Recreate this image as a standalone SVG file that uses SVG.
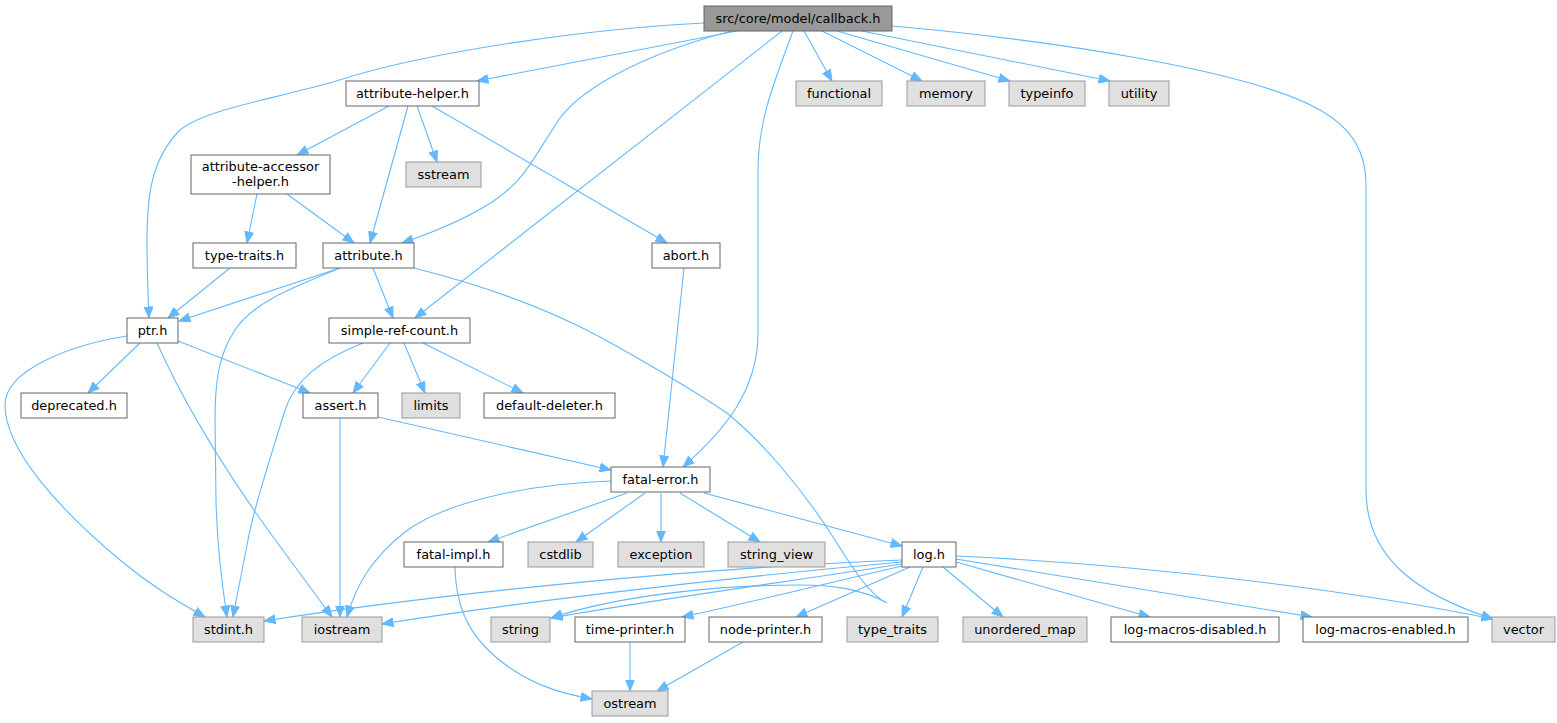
<svg xmlns="http://www.w3.org/2000/svg" width="1557" height="723" viewBox="0 0 1557 723">
<style>
.n rect{fill:#ffffff;stroke:#666666;stroke-width:1}
.g rect{fill:#e0e0e0;stroke:#999999;stroke-width:1}
.r rect{fill:#999999;stroke:#666666;stroke-width:1}
text{font-family:"DejaVu Sans","Liberation Sans",sans-serif;font-size:12.9px;text-anchor:middle;fill:#000000}
.e path{fill:none;stroke:#63b8ff;stroke-width:1.1;marker-end:url(#arr)}
</style>
<defs>
<marker id="arr" markerUnits="userSpaceOnUse" markerWidth="14" markerHeight="11" refX="11.5" refY="4.8" orient="auto">
<path d="M0.5,0.5 L11.5,4.8 L0.5,9.1 z" fill="#63b8ff" stroke="#63b8ff" stroke-width="1"/>
</marker>
</defs>
<rect width="1557" height="723" fill="#ffffff"/>
<g id="connectors" class="e">
<path d="M704,23 C600,28 430,50 333,82 C260,102 205,110 180,130 C150,160 147,200 147,240 C147,270 148,295 149,318"/>
<path d="M737,31 L477,81"/>
<path d="M732,31 C650,52 585,85 560,118 C535,155 525,180 495,200 C470,217 440,230 402,243"/>
<path d="M782,31 L415,318"/>
<path d="M793,31 C775,80 758,120 758,170 L758,333 C758,390 725,430 683,467"/>
<path d="M804,31 L832,81"/>
<path d="M822,31 L922,81"/>
<path d="M837,31 L1010,81"/>
<path d="M862,31 L1110,81"/>
<path d="M892,26 C1050,40 1250,70 1320,110 C1355,130 1366,155 1366,185 L1366,490 C1366,560 1420,595 1493,619"/>
<path d="M389,106 L297,155"/>
<path d="M408,106 L370,243"/>
<path d="M417,106 L437,162"/>
<path d="M432,106 L667,243"/>
<path d="M257,194 L247,243"/>
<path d="M287,194 L354,243"/>
<path d="M230,268 L168,318"/>
<path d="M340,268 L179,321"/>
<path d="M340,268 C300,285 255,300 235,330 C218,355 215,385 215,420 L216,500 C217,545 222,585 227,617"/>
<path d="M373,268 L393,318"/>
<path d="M414,268 C470,282 540,305 600,337 C660,370 700,395 727,413 C760,440 800,485 835,540 C855,572 870,595 887,603 C860,588 830,585 800,585 C720,585 620,595 551,618"/>
<path d="M363,343 C320,360 295,380 285,410 C268,465 252,515 247,545 L233,617"/>
<path d="M390,343 L353,393"/>
<path d="M404,343 L425,393"/>
<path d="M423,343 L523,393"/>
<path d="M140,343 L88,393"/>
<path d="M178,341 L310,393"/>
<path d="M127,336 C70,345 5,370 5,405 C5,450 60,510 120,560 C150,585 175,600 205,617"/>
<path d="M157,343 C185,405 225,470 268,530 L332,617"/>
<path d="M340,418 L340,617"/>
<path d="M378,417 L611,470"/>
<path d="M684,268 L663,467"/>
<path d="M611,481 C520,484 440,505 405,532 C372,558 356,585 347,617"/>
<path d="M627,493 L488,542"/>
<path d="M645,493 L576,542"/>
<path d="M661,493 L661,542"/>
<path d="M680,493 L760,542"/>
<path d="M704,493 L902,546"/>
<path d="M455,567 C456,610 470,640 510,668 C540,688 565,694 592,699"/>
<path d="M902,560 C700,568 450,592 264,621"/>
<path d="M902,562 C700,580 500,605 382,624"/>
<path d="M902,564 C800,580 650,600 551,618"/>
<path d="M902,566 C820,585 740,605 682,617"/>
<path d="M910,567 L796,617"/>
<path d="M923,567 L902,617"/>
<path d="M943,567 L1003,617"/>
<path d="M956,562 L1150,617"/>
<path d="M956,559 L1312,617"/>
<path d="M956,556 C1150,565 1350,590 1493,619"/>
<path d="M630,642 L630,691"/>
<path d="M743,642 L657,691"/>
</g>
<g id="callback" class="r"><rect x="704" y="6" width="188" height="25"/><text x="798" y="22.5">src/core/model/callback.h</text></g>
<g id="attribute-helper" class="n"><rect x="346" y="81" width="133" height="25"/><text x="412.5" y="97.5">attribute-helper.h</text></g>
<g id="functional" class="g"><rect x="796" y="81" width="86" height="25"/><text x="839" y="97.5">functional</text></g>
<g id="memory" class="g"><rect x="907" y="81" width="78" height="25"/><text x="946" y="97.5">memory</text></g>
<g id="typeinfo" class="g"><rect x="1009" y="81" width="76" height="25"/><text x="1047" y="97.5">typeinfo</text></g>
<g id="utility" class="g"><rect x="1109" y="81" width="60" height="25"/><text x="1139" y="97.5">utility</text></g>
<g id="attribute-accessor-helper" class="n"><rect x="191" y="155" width="139" height="39"/><text x="260.5" y="171">attribute-accessor</text><text x="260.5" y="185.5">-helper.h</text></g>
<g id="sstream" class="g"><rect x="406" y="162" width="75" height="25"/><text x="443.5" y="178.5">sstream</text></g>
<g id="type-traits" class="n"><rect x="193" y="243" width="103" height="25"/><text x="244.5" y="259.5">type-traits.h</text></g>
<g id="attribute" class="n"><rect x="323" y="243" width="91" height="25"/><text x="368.5" y="259.5">attribute.h</text></g>
<g id="abort" class="n"><rect x="652" y="243" width="68" height="25"/><text x="686" y="259.5">abort.h</text></g>
<g id="ptr" class="n"><rect x="127" y="318" width="51" height="25"/><text x="152.5" y="334.5">ptr.h</text></g>
<g id="simple-ref-count" class="n"><rect x="329" y="318" width="141" height="25"/><text x="399.5" y="334.5">simple-ref-count.h</text></g>
<g id="deprecated" class="n"><rect x="21" y="393" width="106" height="25"/><text x="74" y="409.5">deprecated.h</text></g>
<g id="assert" class="n"><rect x="303" y="393" width="75" height="25"/><text x="340.5" y="409.5">assert.h</text></g>
<g id="limits" class="g"><rect x="402" y="393" width="58" height="25"/><text x="431" y="409.5">limits</text></g>
<g id="default-deleter" class="n"><rect x="484" y="393" width="131" height="25"/><text x="549.5" y="409.5">default-deleter.h</text></g>
<g id="fatal-error" class="n"><rect x="611" y="467" width="99" height="25"/><text x="660.5" y="483.5">fatal-error.h</text></g>
<g id="fatal-impl" class="n"><rect x="404" y="542" width="99" height="25"/><text x="453.5" y="558.5">fatal-impl.h</text></g>
<g id="cstdlib" class="g"><rect x="528" y="542" width="65" height="25"/><text x="560.5" y="558.5">cstdlib</text></g>
<g id="exception" class="g"><rect x="618" y="542" width="86" height="25"/><text x="661" y="558.5">exception</text></g>
<g id="string_view" class="g"><rect x="728" y="542" width="97" height="25"/><text x="776.5" y="558.5">string_view</text></g>
<g id="log" class="n"><rect x="902" y="542" width="54" height="25"/><text x="929" y="558.5">log.h</text></g>
<g id="stdint" class="g"><rect x="193" y="617" width="71" height="25"/><text x="228.5" y="633.5">stdint.h</text></g>
<g id="iostream" class="g"><rect x="302" y="617" width="80" height="25"/><text x="342" y="633.5">iostream</text></g>
<g id="string" class="g"><rect x="491" y="617" width="59" height="25"/><text x="520.5" y="633.5">string</text></g>
<g id="time-printer" class="n"><rect x="575" y="617" width="110" height="25"/><text x="630" y="633.5">time-printer.h</text></g>
<g id="node-printer" class="n"><rect x="709" y="617" width="113" height="25"/><text x="765.5" y="633.5">node-printer.h</text></g>
<g id="type_traits" class="g"><rect x="847" y="617" width="91" height="25"/><text x="892.5" y="633.5">type_traits</text></g>
<g id="unordered_map" class="g"><rect x="963" y="617" width="124" height="25"/><text x="1025" y="633.5">unordered_map</text></g>
<g id="log-macros-disabled" class="n"><rect x="1111" y="617" width="168" height="25"/><text x="1195" y="633.5">log-macros-disabled.h</text></g>
<g id="log-macros-enabled" class="n"><rect x="1303" y="617" width="165" height="25"/><text x="1385.5" y="633.5">log-macros-enabled.h</text></g>
<g id="vector" class="g"><rect x="1492" y="617" width="63" height="25"/><text x="1523.5" y="633.5">vector</text></g>
<g id="ostream" class="g"><rect x="592" y="691" width="76" height="25"/><text x="630" y="707.5">ostream</text></g>
</svg>
